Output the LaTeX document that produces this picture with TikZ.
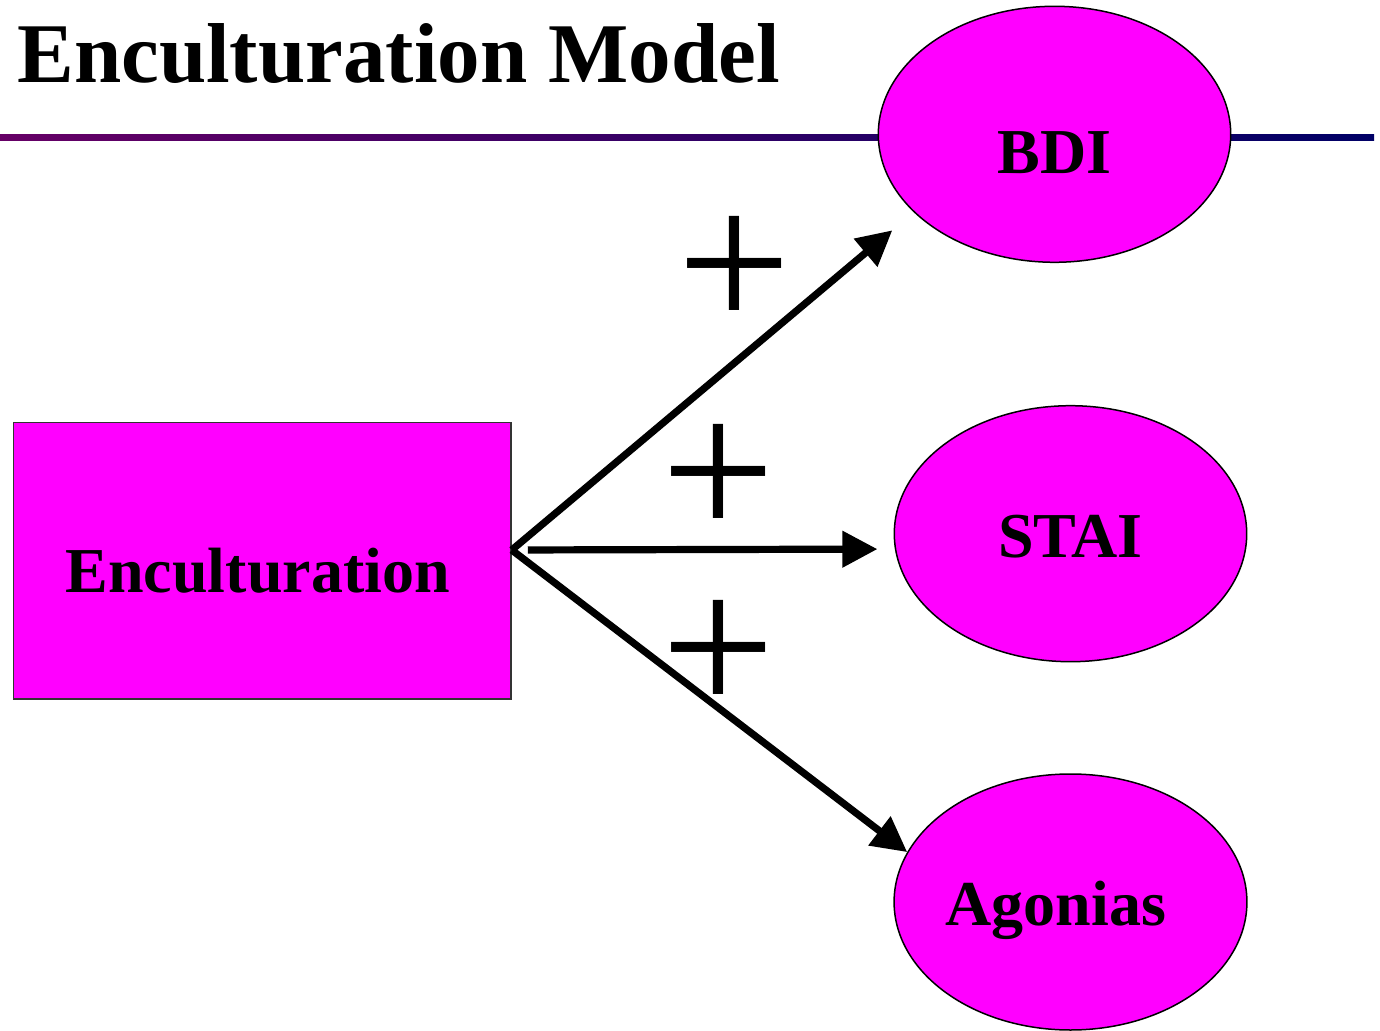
\documentclass[tikz,border=0pt]{standalone}
\usepackage{fontspec}
\setmainfont{Liberation Serif}
\usetikzlibrary{arrows.meta,shapes.geometric}
\definecolor{boxfill}{RGB}{255,0,255}
\definecolor{ruleleft}{RGB}{102,0,102}
\definecolor{ruleright}{RGB}{0,0,102}
\begin{document}
\begin{tikzpicture}[x=0.5pt,y=-0.5pt,
  every node/.style={inner sep=0pt},
  headline/.style={font=\fontsize{42.5}{50}\selectfont\bfseries, anchor=base west},
  factor/.style={rectangle, draw=black!80, fill=boxfill, line width=0.75pt,
    minimum width=248.75pt, minimum height=138.25pt,
    font=\fontsize{32}{38}\selectfont\bfseries, text depth=0pt},
  outcome/.style={ellipse, draw=black, fill=boxfill, line width=0.75pt,
    minimum width=176.2pt, minimum height=128pt,
    font=\fontsize{32}{38}\selectfont\bfseries, text depth=0pt},
  effect/.style={line width=3.6pt, -{Triangle[length=17.5pt,width=17.5pt]}},
  plussign/.style={font=\fontsize{101}{110}\selectfont}
]
\useasboundingbox (0,0) rectangle (1380,1031);

% title and the rule beneath it
\shade[left color=ruleleft, right color=ruleright] (0,134.3) rectangle (1374,140.7);
\node[headline] (title) at (17,82.7) {Enculturation Model};

% predictor and outcome measures
\node[factor, text height=31.8pt] (enc) at (262.25,560.75) {Enculturation\hspace*{4.5pt}};
\node[outcome, text height=39pt] (bdi) at (1054.5,134.3) {BDI};
\node[outcome, text height=24pt] (stai) at (1070.5,533.7) {STAI};
\node[outcome, text height=23.7pt] (ago) at (1070.5,902) {Agonias\hspace*{14.5pt}};

% paths
\draw[effect, shorten >=14pt] ([yshift=5.375pt]enc.east) -- (bdi.209.55);
\draw[effect, shorten <=8pt, shorten >=8.7pt] ([yshift=5.375pt]enc.east) -- (stai.185.33);
\draw[effect] ([yshift=5.375pt]enc.east) -- (ago.163.2);

% signs of the effects
\node[plussign] (p1) at (734.3,273.5) {+};
\node[plussign] (p2) at (718.3,481.5) {+};
\node[plussign] (p3) at (718.3,657.2) {+};
\end{tikzpicture}
\end{document}
